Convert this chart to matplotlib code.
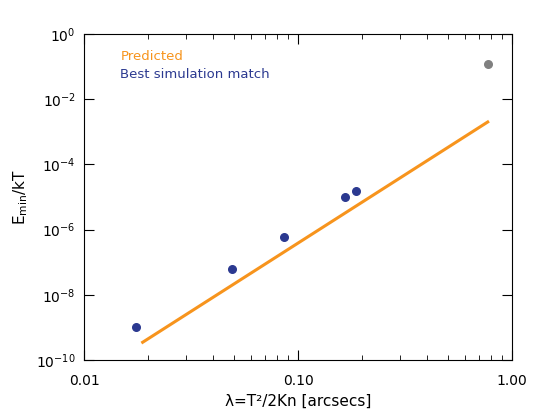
import matplotlib
matplotlib.use("Agg")
import matplotlib.pyplot as plt

pred_x = [0.0188, 0.77]
pred_y = [3.5e-10, 2.0e-3]
sim_x = [0.0175, 0.049, 0.086, 0.166, 0.187]
sim_y = [1.0e-9, 6.0e-8, 6.0e-7, 1.0e-5, 1.5e-5]
grey_x = [0.77]
grey_y = [0.12]

fig = plt.figure(figsize=(5.4, 4.19), dpi=100)
ax = fig.add_axes([84/540, 1-360/419, (512-84)/540, (360-34)/419])
ax.plot(pred_x, pred_y, color="#f7941d", lw=2.2)
ax.scatter(sim_x, sim_y, color="#2b3990", s=30, zorder=3)
ax.scatter(grey_x, grey_y, color="#808080", s=30, zorder=3)
ax.set_xscale("log"); ax.set_yscale("log")
ax.set_xlim(0.01, 1.0); ax.set_ylim(1e-10, 1)
ax.set_xticks([0.01, 0.1, 1.0]); ax.set_xticklabels(["0.01", "0.10", "1.00"])
ax.set_yticks([10.0**k for k in range(-10, 1, 2)])
ax.tick_params(which="both", direction="in", top=True, right=True, labelsize=10)
ax.tick_params(which="major", length=7)
ax.tick_params(which="minor", length=3.5)
ax.tick_params(axis="x", pad=10)
ax.tick_params(axis="y", pad=6)
ax.set_xlabel("λ=T²/2Kn [arcsecs]", fontsize=11)
ax.set_ylabel(r"E$_{\rm min}$/kT", fontsize=11)
ax.text(0.085, 0.92, "Predicted", color="#f7941d", transform=ax.transAxes, fontsize=9.5)
ax.text(0.085, 0.865, "Best simulation match", color="#2b3990", transform=ax.transAxes, fontsize=9.5)
fig.savefig("out.png", dpi=100)
